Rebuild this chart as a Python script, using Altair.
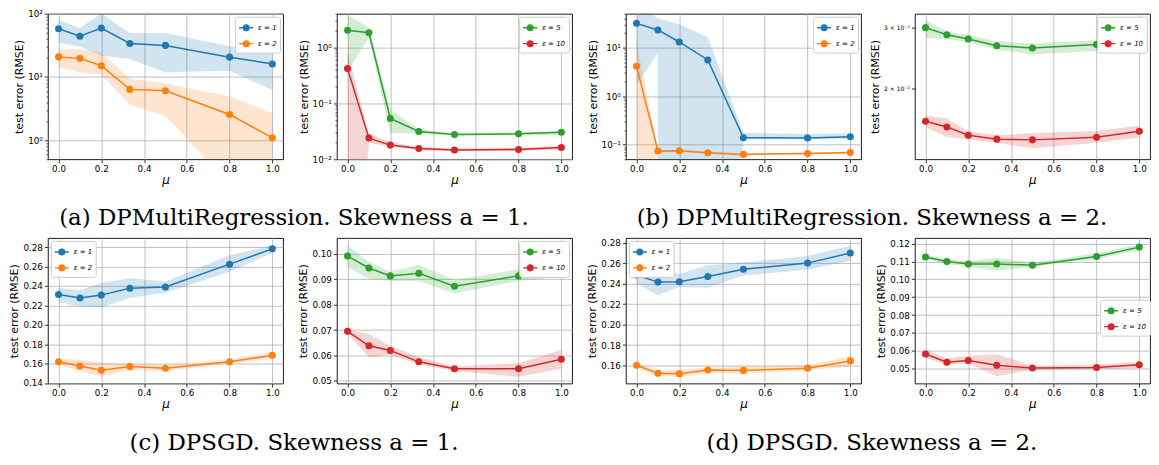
import altair as alt
import pandas as pd

MU = [0.0, 0.1, 0.2, 1 / 3, 0.5, 0.8, 1.0]
X_TICKS = [0.0, 0.2, 0.4, 0.6, 0.8, 1.0]

BLUE, ORANGE, GREEN, RED = "#1f77b4", "#ff7f0e", "#2ca02c", "#d62728"

# ---- (a) DPMultiRegression, skewness a = 1 ----
A_E1 = [57.8, 44.0, 59.3, 33.9, 31.6, 20.6, 16.1]
A_E1_LO = [34.8, 30.1, 21.6, 19.2, 11.9, 12.6, 6.2]
A_E1_HI = [79.6, 59.3, 101.0, 49.6, 49.6, 30.7, 25.8]
A_E2 = [20.8, 19.7, 15.1, 6.37, 6.07, 2.55, 1.09]
A_E2_LO = [14.3, 11.9, 10.85, 3.64, 2.41, 0.2, 0.15]
A_E2_HI = [27.4, 27.4, 24.3, 9.4, 7.87, 4.9, 2.7]

A_E5 = [2.03, 1.83, 0.0536, 0.0313, 0.0278, 0.0285, 0.0305]
A_E5_LO = [0.365, 1.50, 0.0293, 0.0293, 0.0265, 0.027, 0.0275]
A_E5_HI = [3.82, 2.24, 0.078, 0.034, 0.029, 0.030, 0.032]
A_E10 = [0.418, 0.0239, 0.0179, 0.0156, 0.0146, 0.0150, 0.0162]
A_E10_LO = [1e-6, 0.0195, 0.0167, 0.0145, 0.0140, 0.0140, 0.0150]
A_E10_HI = [0.82, 0.0285, 0.0204, 0.0166, 0.0156, 0.0161, 0.0176]

# ---- (b) DPMultiRegression, skewness a = 2 ----
B_E1 = [31.7, 23.2, 13.1, 5.59, 0.139, 0.137, 0.146]
B_E1_BAND_MU = [0.0, 0.1, 0.1, 0.2, 1 / 3, 0.5, 0.8, 1.0]
B_E1_LO = [1.67, 7.85, 1e-6, 1e-6, 1e-6, 0.129, 0.129, 0.131]
B_E1_HI = [80.0, 40.0, 40.0, 30.4, 16.3, 0.176, 0.165, 0.17]
B_E2 = [4.15, 0.074, 0.0745, 0.0683, 0.063, 0.066, 0.069]
B_E2_LO = [1e-6, 0.070, 0.070, 0.065, 0.060, 0.063, 0.066]
B_E2_HI = [13.5, 0.078, 0.078, 0.072, 0.066, 0.069, 0.072]

B_E5 = [0.0300, 0.0286, 0.0278, 0.0266, 0.0262, 0.0268, 0.0277]
B_E5_LO = [0.0280, 0.0278, 0.0272, 0.0259, 0.0251, 0.0257, 0.0273]
B_E5_HI = [0.0315, 0.0293, 0.0285, 0.0274, 0.0270, 0.0276, 0.0283]
B_E10 = [0.0161, 0.0155, 0.01467, 0.01429, 0.01422, 0.01446, 0.01506]
B_E10_LO = [0.0155, 0.0145, 0.01429, 0.01394, 0.01344, 0.01394, 0.01445]
B_E10_HI = [0.0167, 0.0164, 0.01503, 0.01467, 0.01488, 0.01508, 0.01565]

# ---- (c) DPSGD, skewness a = 1 ----
C_E1 = [0.2313, 0.2276, 0.2306, 0.2377, 0.2390, 0.2625, 0.2783]
C_E1_LO = [0.2236, 0.2189, 0.2179, 0.2280, 0.2330, 0.2548, 0.2740]
C_E1_HI = [0.2380, 0.2357, 0.2431, 0.2481, 0.2447, 0.2716, 0.2817]
C_E2 = [0.1618, 0.1575, 0.1531, 0.1571, 0.1551, 0.1618, 0.1685]
C_E2_LO = [0.1591, 0.1518, 0.1467, 0.1531, 0.1524, 0.1598, 0.1652]
C_E2_HI = [0.1648, 0.1642, 0.1608, 0.1598, 0.1581, 0.1642, 0.1719]

C_E5 = [0.0991, 0.0944, 0.0913, 0.0923, 0.0872, 0.0913, 0.0928]
C_E5_LO = [0.0948, 0.0901, 0.0893, 0.0893, 0.0845, 0.0893, 0.0910]
C_E5_HI = [0.1032, 0.0968, 0.0929, 0.0957, 0.0897, 0.0939, 0.0944]
C_E10 = [0.0695, 0.0638, 0.0620, 0.0575, 0.0548, 0.0548, 0.0585]
C_E10_LO = [0.0686, 0.0593, 0.0603, 0.0565, 0.0539, 0.0516, 0.0548]
C_E10_HI = [0.0703, 0.0684, 0.0638, 0.0593, 0.0557, 0.0570, 0.0622]

# ---- (d) DPSGD, skewness a = 2 ----
D_E1 = [0.2486, 0.2416, 0.2419, 0.2470, 0.2541, 0.2602, 0.2701]
D_E1_LO = [0.2400, 0.2288, 0.2368, 0.2362, 0.2480, 0.2538, 0.2624]
D_E1_HI = [0.2550, 0.2538, 0.2496, 0.2582, 0.2608, 0.2672, 0.2774]
D_E2 = [0.1603, 0.1523, 0.1520, 0.1555, 0.1552, 0.1574, 0.1645]
D_E2_LO = [0.1568, 0.1498, 0.1488, 0.1526, 0.1520, 0.1552, 0.1590]
D_E2_HI = [0.1632, 0.1552, 0.1558, 0.1578, 0.1590, 0.1600, 0.1696]

D_E5 = [0.1125, 0.1099, 0.1085, 0.1086, 0.1079, 0.1127, 0.1180]
D_E5_LO = [0.1114, 0.1085, 0.1072, 0.1048, 0.1070, 0.1114, 0.1163]
D_E5_HI = [0.1136, 0.1114, 0.1099, 0.1121, 0.1092, 0.1145, 0.1195]
D_E10 = [0.0583, 0.0537, 0.0546, 0.0520, 0.0504, 0.0507, 0.0522]
D_E10_LO = [0.0559, 0.0522, 0.0531, 0.0458, 0.0495, 0.0498, 0.0504]
D_E10_HI = [0.0605, 0.0559, 0.0571, 0.0581, 0.0517, 0.0522, 0.0540]

# ---- axis tick values / labels ----
LOG_A1_MAJOR = [1.0, 10.0, 100.0]
LOG_A1_LABELS = ["10⁰", "10¹", "10²"]
LOG_A2_MAJOR = [0.01, 0.1, 1.0]
LOG_A2_LABELS = ["10⁻²", "10⁻¹", "10⁰"]
LOG_B1_MAJOR = [0.1, 1.0, 10.0]
LOG_B1_LABELS = ["10⁻¹", "10⁰", "10¹"]
LOG_B2_MAJOR = [0.02, 0.03]
LOG_B2_LABELS = ["2 × 10⁻²", "3 × 10⁻²"]
LIN_C1_TICKS = [0.14, 0.16, 0.18, 0.20, 0.22, 0.24, 0.26, 0.28]
LIN_C2_TICKS = [0.05, 0.06, 0.07, 0.08, 0.09, 0.10]
LIN_D1_TICKS = [0.16, 0.18, 0.20, 0.22, 0.24, 0.26, 0.28]
LIN_D2_TICKS = [0.05, 0.06, 0.07, 0.08, 0.09, 0.10, 0.11, 0.12]

CAPTIONS = [
    "(a) DPMultiRegression. Skewness a = 1.",
    "(b) DPMultiRegression. Skewness a = 2.",
    "(c) DPSGD. Skewness a = 1.",
    "(d) DPSGD. Skewness a = 2.",
]

W, H = 236, 146
COL_SP, ROW_SP = 54, 79
LEG_PATH = "M-1,0L1,0M0.4,0A0.4,0.4,0,1,1,-0.4,0A0.4,0.4,0,1,1,0.4,0Z"


def minor_ticks(lo, hi):
    out = []
    for dec in [1e-3, 1e-2, 1e-1, 1.0, 10.0, 100.0]:
        for k in range(2, 10):
            v = round(k * dec, 6)
            if lo <= v <= hi:
                out.append(v)
    return out


def match(v):
    return f"abs(datum.value - {v}) < {v * 1e-6}"


def log_axis(major, labels, lo, hi, grid=True, lfs=8.8):
    expr = "''"
    for v, lab in zip(reversed(major), reversed(labels)):
        expr = f"{match(v)} ? '{lab}' : ({expr})"
    cond = " || ".join(match(v) for v in major)
    vals = sorted(set(major + minor_ticks(lo, hi)))
    kw = dict(
        values=vals,
        labelExpr=expr,
        labelOverlap=False,
        labelFontSize=lfs,
        tickSize={"condition": {"test": cond, "value": 3.5}, "value": 2},
        tickWidth={"condition": {"test": cond, "value": 0.8}, "value": 0.6},
        title="test error (RMSE)",
        grid=grid,
    )
    if grid:
        kw["gridOpacity"] = {"condition": {"test": cond, "value": 1}, "value": 0}
    return alt.Axis(**kw)


def lin_axis(ticks):
    return alt.Axis(values=ticks, format=".2f", title="test error (RMSE)", grid=True)


def panel(series, ydom, ytype, yaxis, legend_kw, caption=None):
    lines, bands = [], []
    for lab, vals, bmu, lo, hi in series:
        for m, v in zip(MU, vals):
            lines.append({"mu": m, "val": v, "s": lab})
        for m, l, h in zip(bmu, lo, hi):
            bands.append({"mu": m, "lo": l, "hi": h, "s": lab})
    ldf, bdf = pd.DataFrame(lines), pd.DataFrame(bands)
    dom = [s[0] for s in series]
    rng = list(legend_kw.pop("colors"))
    cscale = alt.Scale(domain=dom, range=rng)
    yscale = alt.Scale(type=ytype, domain=ydom, nice=False, zero=False)
    x = alt.X(
        "mu:Q",
        scale=alt.Scale(domain=[-0.05, 1.05], nice=False, zero=False),
        axis=alt.Axis(values=X_TICKS, format=".1f", title="μ", grid=True),
    )
    legend = alt.Legend(
        title=None,
        symbolType=LEG_PATH,
        symbolSize=200,
        symbolStrokeWidth=1.4,
        symbolOpacity=1,
        labelFontSize=7,
        labelFontStyle="italic",
        labelFont="DejaVu Sans",
        labelOffset=4,
        padding=3,
        rowPadding=2,
        strokeColor="#cccccc",
        fillColor="white",
        cornerRadius=2,
        **legend_kw,
    )
    color = alt.Color("s:N", scale=cscale, legend=legend)
    band = alt.Chart(bdf).mark_area(opacity=0.2, clip=True).encode(
        x=x,
        y=alt.Y("lo:Q", scale=yscale, axis=yaxis),
        y2="hi:Q",
        color=color,
    )
    line = alt.Chart(ldf).mark_line(strokeWidth=1.5, clip=True).encode(
        x=x,
        y=alt.Y("val:Q", scale=yscale, axis=yaxis),
        color=color,
    )
    pts = alt.Chart(ldf).mark_circle(size=50, opacity=1, clip=True).encode(
        x=x,
        y=alt.Y("val:Q", scale=yscale, axis=yaxis),
        color=color,
    )
    props = dict(width=W, height=H)
    if caption is not None:
        props["title"] = alt.Title(
            caption,
            orient="bottom",
            anchor="middle",
            frame="group",
            dx=(W + COL_SP) / 2 - 16,
            offset=22,
            font="DejaVu Serif",
            fontSize=23,
            fontWeight="normal",
            color="black",
        )
    return alt.layer(band, line, pts).properties(**props)


TR = dict(orient="top-right", offset=3)
TL = dict(orient="top-left", offset=3)

p1 = panel(
    [("ε = 1", A_E1, MU, A_E1_LO, A_E1_HI), ("ε = 2", A_E2, MU, A_E2_LO, A_E2_HI)],
    [0.5, 100.0], "log", log_axis(LOG_A1_MAJOR, LOG_A1_LABELS, 0.5, 100.0),
    dict(TR, colors=[BLUE, ORANGE]), CAPTIONS[0],
)
p2 = panel(
    [("ε = 5", A_E5, MU, A_E5_LO, A_E5_HI), ("ε = 10", A_E10, MU, A_E10_LO, A_E10_HI)],
    [0.01, 4.0], "log", log_axis(LOG_A2_MAJOR, LOG_A2_LABELS, 0.01, 4.0),
    dict(TR, colors=[GREEN, RED]),
)
p3 = panel(
    [("ε = 1", B_E1, B_E1_BAND_MU, B_E1_LO, B_E1_HI), ("ε = 2", B_E2, MU, B_E2_LO, B_E2_HI)],
    [0.05, 50.0], "log", log_axis(LOG_B1_MAJOR, LOG_B1_LABELS, 0.05, 50.0),
    dict(TR, colors=[BLUE, ORANGE]), CAPTIONS[1],
)
p4 = panel(
    [("ε = 5", B_E5, MU, B_E5_LO, B_E5_HI), ("ε = 10", B_E10, MU, B_E10_LO, B_E10_HI)],
    [0.0125, 0.0329], "log",
    log_axis(LOG_B2_MAJOR, LOG_B2_LABELS, 0.05, 0.01, grid=False, lfs=6),
    dict(TR, colors=[GREEN, RED]),
)
p5 = panel(
    [("ε = 1", C_E1, MU, C_E1_LO, C_E1_HI), ("ε = 2", C_E2, MU, C_E2_LO, C_E2_HI)],
    [0.1395, 0.2895], "linear", lin_axis(LIN_C1_TICKS),
    dict(TL, colors=[BLUE, ORANGE]), CAPTIONS[2],
)
p6 = panel(
    [("ε = 5", C_E5, MU, C_E5_LO, C_E5_HI), ("ε = 10", C_E10, MU, C_E10_LO, C_E10_HI)],
    [0.049, 0.1062], "linear", lin_axis(LIN_C2_TICKS),
    dict(TR, colors=[GREEN, RED]),
)
p7 = panel(
    [("ε = 1", D_E1, MU, D_E1_LO, D_E1_HI), ("ε = 2", D_E2, MU, D_E2_LO, D_E2_HI)],
    [0.1424, 0.2848], "linear", lin_axis(LIN_D1_TICKS),
    dict(TL, colors=[BLUE, ORANGE]), CAPTIONS[3],
)
p8 = panel(
    [("ε = 5", D_E5, MU, D_E5_LO, D_E5_HI), ("ε = 10", D_E10, MU, D_E10_LO, D_E10_HI)],
    [0.0418, 0.1231], "linear", lin_axis(LIN_D2_TICKS),
    dict(orient="none", legendX=W - 50, legendY=62, colors=[GREEN, RED]),
)

chart = (
    alt.ConcatChart(
        concat=[p1, p2, p3, p4, p5, p6, p7, p8],
        columns=4,
        spacing={"row": ROW_SP, "column": COL_SP},
        bounds="flush",
    )
    .resolve_scale(color="independent")
    .resolve_legend(color="independent")
    .properties(padding={"left": 0, "top": 0, "right": 0, "bottom": 0}, background="white")
    .configure_view(stroke="black", strokeWidth=0.9)
    .configure_axis(
        domain=False,
        labelFont="DejaVu Sans",
        labelFontSize=8.8,
        labelColor="black",
        labelPadding=2,
        tickColor="black",
        tickSize=3.5,
        tickWidth=0.8,
        gridColor="#b0b0b0",
        gridWidth=0.8,
        titleFont="DejaVu Sans",
        titleFontSize=11,
        titleFontWeight="normal",
        titleColor="black",
        titlePadding=3,
    )
    .configure_axisX(titleFontStyle="italic", titleFontSize=12, titlePadding=1)
)

chart.save("out.html", embed_options={"renderer": "svg", "actions": False})
